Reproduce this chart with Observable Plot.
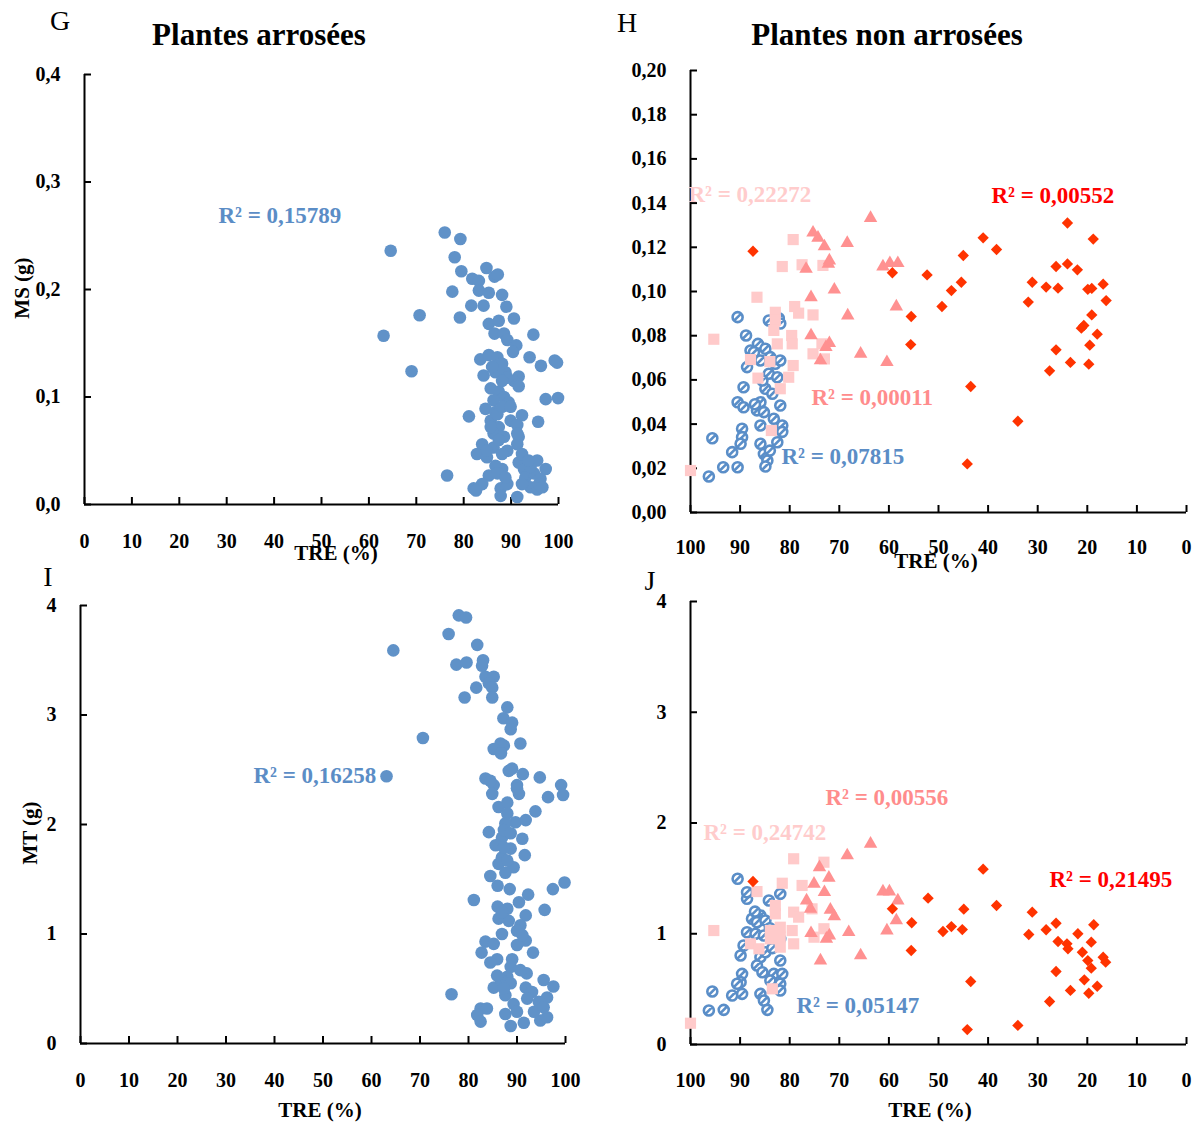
<!DOCTYPE html>
<html><head><meta charset="utf-8">
<script src="https://cdn.jsdelivr.net/npm/d3@7"></script>
<script src="https://cdn.jsdelivr.net/npm/@observablehq/plot@0.6"></script>
<style>
body{margin:0;background:#fff}
#root{position:relative;width:1202px;height:1122px;font-family:"Liberation Serif","Times New Roman",serif;overflow:hidden}
.p{position:absolute}
.t{position:absolute;transform:translate(-50%,-50%);white-space:nowrap;color:#000;line-height:1}
</style></head><body><div id="root"></div>
<script>
// ---------- DATA ----------
const xTicks = [0,10,20,30,40,50,60,70,80,90,100];
const msTicksG = [0,0.1,0.2,0.3,0.4];
const msTicksH = [0,0.02,0.04,0.06,0.08,0.10,0.12,0.14,0.16,0.18,0.20];
const mtTicks = [0,1,2,3,4];

const titles = ["Plantes arrosées","Plantes non arrosées"];
const panelLetters = ["G","H","I","J"];
const xLabel = "TRE (%)";
const yLabels = ["MS (g)","MT (g)"];

// Panel G : watered plants, TRE (%) vs MS (g)
const gPoints = [[76.0,0.253],[79.3,0.247],[64.6,0.236],[78.1,0.230],[79.5,0.217],[84.8,0.220],[81.8,0.210],[83.2,0.208],[86.5,0.212],[87.2,0.214],[77.6,0.198],[83.2,0.199],[85.3,0.197],[88.1,0.195],[81.6,0.185],[84.2,0.185],[89.0,0.184],[70.7,0.176],[79.2,0.174],[90.6,0.173],[85.3,0.168],[87.4,0.171],[86.5,0.159],[88.5,0.159],[94.7,0.158],[63.1,0.157],[89.2,0.153],[91.1,0.148],[90.4,0.142],[93.9,0.137],[83.5,0.135],[85.3,0.139],[87.1,0.137],[88.1,0.131],[99.2,0.134],[99.7,0.132],[96.3,0.129],[69.0,0.124],[84.2,0.120],[86.7,0.123],[88.8,0.123],[91.6,0.119],[90.6,0.115],[91.6,0.110],[85.7,0.108],[87.4,0.105],[88.5,0.100],[89.5,0.095],[97.3,0.098],[99.9,0.099],[86.3,0.097],[84.6,0.089],[86.7,0.086],[81.1,0.082],[92.3,0.083],[95.7,0.077],[85.7,0.078],[89.9,0.078],[91.3,0.074],[87.4,0.072],[86.3,0.066],[88.5,0.063],[91.6,0.063],[83.9,0.056],[86.3,0.053],[91.3,0.056],[89.2,0.050],[82.8,0.047],[84.9,0.044],[91.6,0.039],[95.5,0.041],[97.3,0.033],[88.1,0.033],[86.7,0.036],[92.7,0.033],[76.5,0.027],[85.3,0.027],[93.0,0.025],[94.8,0.029],[96.2,0.024],[83.9,0.019],[82.1,0.015],[87.8,0.015],[89.2,0.019],[87.8,0.008],[91.3,0.007],[94.1,0.016],[95.5,0.014],[92.3,0.019],[94.1,0.035],[87.8,0.131],[89.2,0.118],[88.1,0.115],[86.0,0.128],[87.1,0.084],[88.1,0.091],[89.9,0.091],[85.7,0.072],[87.4,0.060],[84.9,0.050],[88.1,0.047],[91.3,0.066],[92.3,0.047],[93.7,0.041],[87.1,0.029],[88.8,0.025],[95.9,0.019],[96.6,0.016],[82.6,0.013]];

// Panel I : watered plants, TRE (%) vs MT (g)
const iPoints = [[78.0,3.91],[79.5,3.89],[75.9,3.74],[64.5,3.59],[81.8,3.64],[77.5,3.46],[79.6,3.48],[83.0,3.50],[82.8,3.45],[83.5,3.35],[85.2,3.35],[84.2,3.29],[81.6,3.25],[84.9,3.25],[79.2,3.16],[84.9,3.16],[88.0,3.07],[87.2,2.97],[89.0,2.93],[88.7,2.87],[70.6,2.79],[90.7,2.74],[86.6,2.74],[87.3,2.72],[85.2,2.69],[86.7,2.65],[63.1,2.44],[88.3,2.49],[89.0,2.51],[91.2,2.46],[94.7,2.43],[83.5,2.42],[85.2,2.36],[90.0,2.36],[99.1,2.36],[84.9,2.28],[90.4,2.28],[99.5,2.27],[96.4,2.25],[86.2,2.16],[88.0,2.20],[93.8,2.12],[88.0,2.10],[91.8,2.04],[89.7,2.02],[87.6,2.01],[84.2,1.93],[91.1,1.87],[86.9,1.88],[85.6,1.81],[88.7,1.78],[91.6,1.72],[86.9,1.70],[86.2,1.64],[89.3,1.61],[87.6,1.56],[84.5,1.53],[86.0,1.44],[88.5,1.41],[99.8,1.47],[97.4,1.41],[92.3,1.36],[81.1,1.31],[90.4,1.29],[86.0,1.25],[88.0,1.23],[95.7,1.22],[91.8,1.17],[86.2,1.14],[88.3,1.12],[90.7,1.08],[90.0,1.03],[86.9,1.00],[91.8,0.94],[90.0,0.90],[83.5,0.93],[85.2,0.91],[82.7,0.83],[93.3,0.83],[85.9,0.77],[89.0,0.77],[84.5,0.74],[88.7,0.70],[88.0,0.61],[92.0,0.64],[95.5,0.58],[97.5,0.52],[85.2,0.51],[86.7,0.58],[88.7,0.55],[91.8,0.51],[76.5,0.45],[87.6,0.44],[93.1,0.47],[96.2,0.42],[89.3,0.36],[94.5,0.38],[82.5,0.32],[83.8,0.32],[81.8,0.26],[82.5,0.20],[87.6,0.27],[88.7,0.16],[91.4,0.19],[94.8,0.21],[96.2,0.24],[93.5,0.29],[90.0,0.29],[85.9,0.62],[90.7,0.67],[87.3,0.50],[92.1,0.41],[95.5,0.33],[84.5,2.40],[90.0,2.33],[87.3,1.95],[88.7,1.92],[88.0,1.67],[87.3,1.79],[86.9,1.20],[91.1,0.99]];

// Panel H : non-watered plants, TRE (%) vs MS (g), four groups
const hBlue = [[90.5,0.0884],[88.8,0.0801],[84.2,0.0869],[82.2,0.0879],[86.4,0.0763],[87.9,0.0733],[84.9,0.0741],[88.6,0.0658],[82.9,0.0673],[84.2,0.0628],[82.5,0.0612],[89.3,0.0567],[84.9,0.0560],[90.5,0.0499],[89.3,0.0476],[85.9,0.0499],[86.6,0.0462],[85.2,0.0454],[81.9,0.0484],[83.2,0.0424],[85.9,0.0394],[81.5,0.0394],[89.6,0.0379],[89.6,0.0341],[89.9,0.0311],[95.6,0.0336],[91.6,0.0273],[85.9,0.0311],[82.5,0.0318],[85.2,0.0265],[84.5,0.0235],[84.9,0.0208],[93.4,0.0205],[90.5,0.0205],[96.3,0.0163],[87.2,0.0725],[85.9,0.0688],[83.9,0.0703],[85.5,0.0597],[83.5,0.0537],[81.9,0.0855],[81.9,0.0688],[81.5,0.0365],[84.0,0.0280],[87.0,0.0490]];
const hPink = [[79.3,0.1235],[81.5,0.1113],[77.5,0.1121],[73.3,0.1118],[86.6,0.0974],[79.0,0.0932],[78.2,0.0902],[75.3,0.0894],[82.9,0.0906],[82.9,0.0869],[95.3,0.0784],[83.2,0.0824],[82.5,0.0763],[79.6,0.0801],[79.5,0.0763],[87.9,0.0692],[84.0,0.0683],[86.4,0.0608],[79.3,0.0665],[80.2,0.0612],[81.9,0.0560],[83.7,0.0371],[100,0.0190],[75.3,0.0718],[73.0,0.0695],[73.5,0.0763]];
const hSalmon = [[63.7,0.1332],[75.3,0.1266],[74.3,0.1243],[73.0,0.1204],[68.4,0.1219],[72.0,0.1140],[72.2,0.1125],[76.7,0.1102],[61.2,0.1113],[59.8,0.1128],[58.2,0.1128],[71.0,0.1008],[75.7,0.0974],[58.5,0.0932],[68.3,0.0891],[75.7,0.0801],[72.0,0.0766],[72.7,0.0748],[73.8,0.0688],[65.7,0.0718],[60.4,0.0680]];
const hRed = [[87.4,0.1182],[59.3,0.1085],[52.3,0.1075],[55.5,0.0887],[55.6,0.0760],[49.3,0.0932],[47.4,0.1004],[45.4,0.1042],[45.0,0.1163],[41.0,0.1243],[38.3,0.1190],[43.5,0.0570],[44.2,0.0220],[34.0,0.0413],[31.1,0.1042],[31.9,0.0952],[28.3,0.1020],[25.9,0.1015],[26.3,0.1113],[24.0,0.1125],[22.0,0.1098],[24.0,0.1310],[18.8,0.1237],[19.9,0.1010],[19.1,0.1014],[16.8,0.1033],[16.2,0.0959],[19.1,0.0894],[20.7,0.0846],[21.2,0.0834],[18.0,0.0807],[19.5,0.0757],[26.3,0.0736],[23.4,0.0679],[19.7,0.0671],[27.6,0.0641]];

// Panel J : non-watered plants, TRE (%) vs MT (g), four groups
const jBlue = [[90.5,1.496],[88.6,1.316],[88.6,1.375],[84.2,1.300],[81.9,1.360],[87.6,1.135],[85.9,1.165],[86.6,1.104],[84.9,1.120],[88.6,1.014],[86.9,1.000],[85.2,0.984],[81.9,0.954],[89.3,0.894],[89.9,0.804],[85.9,0.788],[84.9,0.833],[81.9,0.758],[86.6,0.713],[85.5,0.653],[89.6,0.638],[83.2,0.638],[81.5,0.638],[89.9,0.563],[83.9,0.578],[81.9,0.548],[90.6,0.548],[95.6,0.479],[91.6,0.442],[89.6,0.457],[85.9,0.457],[85.2,0.397],[84.5,0.313],[93.3,0.313],[96.3,0.307],[81.9,0.488],[87.0,1.200],[84.0,1.050],[83.5,0.870]];
const jPink = [[79.2,1.677],[73.1,1.646],[81.5,1.456],[77.5,1.436],[86.6,1.381],[95.3,1.029],[82.9,1.255],[82.9,1.180],[79.2,1.195],[78.2,1.150],[75.5,1.225],[83.9,1.029],[81.9,1.059],[79.5,1.029],[79.2,0.909],[81.9,0.879],[87.9,0.909],[86.2,0.864],[83.9,0.954],[73.1,1.045],[75.1,0.969],[83.5,0.503],[100,0.192],[81.9,0.969]];
const jSalmon = [[63.7,1.812],[68.4,1.707],[74.0,1.600],[72.1,1.505],[75.1,1.451],[73.0,1.375],[61.2,1.381],[59.9,1.381],[58.2,1.300],[76.6,1.300],[75.8,1.225],[71.8,1.216],[71.0,1.156],[58.5,1.120],[75.7,1.005],[68.1,1.014],[60.4,1.029],[72.6,0.954],[72.0,0.984],[65.7,0.804],[73.8,0.758]];
const jRed = [[87.4,1.472],[59.3,1.225],[55.4,1.099],[55.5,0.849],[52.1,1.321],[49.1,1.020],[47.4,1.065],[45.2,1.038],[44.9,1.222],[41.0,1.583],[38.3,1.255],[43.5,0.569],[44.2,0.135],[34.0,0.172],[31.1,1.195],[31.8,0.993],[28.3,1.036],[26.3,1.095],[25.9,0.930],[24.1,0.909],[23.9,0.864],[21.9,1.000],[18.7,1.081],[19.2,0.924],[21.0,0.833],[19.9,0.758],[19.2,0.689],[16.8,0.788],[16.3,0.743],[26.3,0.659],[20.6,0.584],[23.4,0.488],[19.7,0.463],[18.0,0.526],[27.6,0.388]];

// R² values
const r2G = "0,15789";
const r2I = "0,16258";
const r2H = {pink:"0,22272", red:"0,00552", salmon:"0,00011", blue:"0,07815"};
const r2J = {salmon:"0,00556", pink:"0,24742", red:"0,21495", blue:"0,05147"};

// ---------- STYLE ----------
const FONT = '"Liberation Serif","Times New Roman",serif';
const C = {blue:"#6092c8", ring:"#5a8ec8", pink:"#ffcaca", salmon:"#ff9191", red:"#ff3300",
           tBlue:"#5b8dc6", tPink:"#ffcccc", tSalmon:"#ff8c8c", tRed:"#ff0000"};
const ring = {draw(ctx, size){ const r = Math.sqrt(size/Math.PI); ctx.moveTo(r,0); ctx.arc(0,0,r,0,2*Math.PI); const a=r*0.66; ctx.moveTo(-a,a); ctx.lineTo(a,-a);} };
const toRows = arr => arr.map(([x,y]) => ({x,y}));
const root = document.getElementById("root");

function panel(o){
  const marks = [
    Plot.axisX({ticks:xTicks, tickFormat:d=>String(d), tickSize:-7, tickPadding:o.xPad, strokeWidth:2, label:null}),
    Plot.axisY({ticks:o.yTicks, tickFormat:o.yFmt, tickSize:-7, tickPadding:o.yPad, strokeWidth:2, label:null}),
    Plot.ruleY([0], {stroke:"#000", strokeWidth:2}),
    Plot.ruleX([o.xDomain[0]], {stroke:"#000", strokeWidth:2}),
    ...o.series.map(s => Plot.dot(toRows(s.data), {x:"x", y:"y", symbol:s.symbol, r:s.r, fill:s.fill, stroke:s.stroke || "none", strokeWidth:s.sw || 0})),
    ...o.labels.map(l => Plot.text(["R² = " + l.text], {frameAnchor:"top-left", dx:l.dx, dy:l.dy, textAnchor:"start", lineAnchor:"middle", fill:l.color, fontSize:23, fontWeight:"bold"}))
  ];
  const svg = Plot.plot({
    width:o.width, height:o.height, marginLeft:o.mL, marginRight:o.mR, marginTop:o.mT, marginBottom:o.mB,
    style:{fontFamily:FONT, fontSize:"20px", fontWeight:"bold", background:"transparent", overflow:"visible", color:"#000"},
    x:{domain:o.xDomain}, y:{domain:o.yDomain},
    marks
  });
  svg.classList.add("p");
  svg.style.left = o.left + "px"; svg.style.top = o.top + "px";
  root.appendChild(svg);
}
const fmt1 = d => d.toFixed(1).replace(".", ",");
const fmt2 = d => d.toFixed(2).replace(".", ",");
const fmt0 = d => String(d);

panel({left:0, top:0, width:600, height:560, mL:84, mR:42, mT:74, mB:56, xDomain:[0,100], yDomain:[0,0.4], yTicks:msTicksG, yFmt:fmt1, xPad:36.5, yPad:31,
  series:[{data:gPoints, symbol:"circle", r:6.3, fill:C.blue}],
  labels:[{text:r2G, dx:134, dy:141, color:C.tBlue}]});

panel({left:600, top:0, width:602, height:580, mL:90, mR:16, mT:70, mB:68, xDomain:[100,0], yDomain:[0,0.2], yTicks:msTicksH, yFmt:fmt2, xPad:34.5, yPad:31,
  series:[
    {data:hBlue, symbol:ring, r:5, fill:"#fff", stroke:C.ring, sw:2.6},
    {data:hPink, symbol:"square", r:6.3, fill:C.pink},
    {data:hSalmon, symbol:"triangle", r:5, fill:C.salmon},
    {data:hRed, symbol:"diamond2", r:5.1, fill:C.red}],
  labels:[
    {text:r2H.pink, dx:-2, dy:124, color:C.tPink},
    {text:r2H.red, dx:301, dy:125, color:C.tRed},
    {text:r2H.salmon, dx:121, dy:327, color:C.tSalmon},
    {text:r2H.blue, dx:91, dy:386, color:C.tBlue}]});

panel({left:0, top:560, width:600, height:562, mL:80, mR:35, mT:45, mB:79, xDomain:[0,100], yDomain:[0,4], yTicks:mtTicks, yFmt:fmt0, xPad:36.5, yPad:31,
  series:[{data:iPoints, symbol:"circle", r:6.3, fill:C.blue}],
  labels:[{text:r2I, dx:173, dy:170, color:C.tBlue}]});

panel({left:600, top:560, width:602, height:562, mL:90, mR:16, mT:41, mB:78, xDomain:[100,0], yDomain:[0,4], yTicks:mtTicks, yFmt:fmt0, xPad:35.5, yPad:31,
  series:[
    {data:jBlue, symbol:ring, r:5, fill:"#fff", stroke:C.ring, sw:2.6},
    {data:jPink, symbol:"square", r:6.3, fill:C.pink},
    {data:jSalmon, symbol:"triangle", r:5, fill:C.salmon},
    {data:jRed, symbol:"diamond2", r:5.1, fill:C.red}],
  labels:[
    {text:r2J.salmon, dx:135, dy:196, color:C.tSalmon},
    {text:r2J.pink, dx:13, dy:231, color:C.tPink},
    {text:r2J.red, dx:359, dy:278, color:C.tRed},
    {text:r2J.blue, dx:106, dy:404, color:C.tBlue}]});

// ---------- HTML text (titles, letters, axis titles) ----------
function txt(s, x, y, css){ const d=document.createElement("div"); d.className="t"; d.textContent=s; d.style.left=x+"px"; d.style.top=y+"px"; Object.assign(d.style, css); root.appendChild(d); }
const bold = (size) => ({fontSize:size+"px", fontWeight:"bold"});
txt(titles[0], 259, 34, bold(31));
txt(titles[1], 887, 34, bold(31));
txt(panelLetters[0], 60, 21, {fontSize:"28px"});
txt(panelLetters[1], 627, 23, {fontSize:"28px"});
txt(panelLetters[2], 48, 577, {fontSize:"28px"});
txt(panelLetters[3], 650, 581, {fontSize:"28px"});
txt(xLabel, 336, 553, bold(21));
txt(xLabel, 936, 561, bold(21));
txt(xLabel, 320, 1110, bold(21));
txt(xLabel, 930, 1110, bold(21));
txt(yLabels[0], 22, 288, Object.assign(bold(21), {transform:"translate(-50%,-50%) rotate(-90deg)"}));
txt(yLabels[1], 30, 833, Object.assign(bold(21), {transform:"translate(-50%,-50%) rotate(-90deg)"}));
</script></body></html>
